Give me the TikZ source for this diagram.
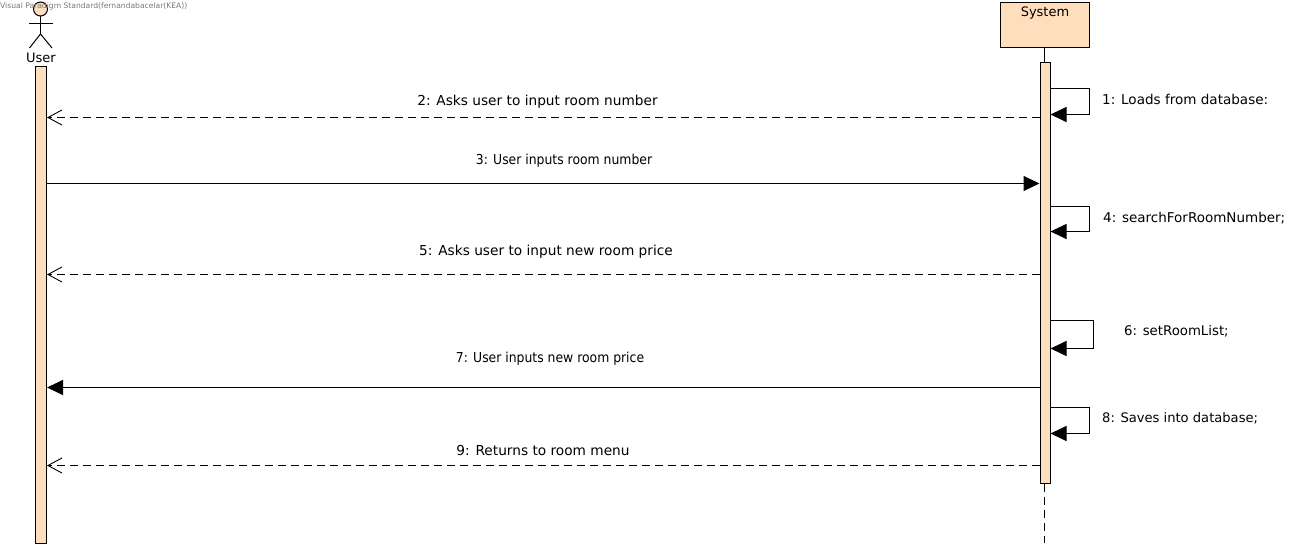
\documentclass[tikz,border=0pt]{standalone}
\usepackage{fontspec}
\setmainfont{DejaVu Sans}
\usetikzlibrary{arrows.meta}
\definecolor{barfill}{RGB}{255,222,190}
\definecolor{markgray}{RGB}{120,120,120}
\tikzset{
  barnode/.style={draw=black,fill=barfill,line width=1pt,minimum width=11pt,inner sep=0pt,anchor=north},
  msgtext/.style={font=\fontsize{13.7}{16}\selectfont,inner sep=0pt},
  narrowtext/.style={msgtext,xscale=0.905,transform shape},
  solidmsg/.style={line width=1pt,-{Triangle[length=16pt,width=15pt]}},
  dashmsg/.style={line width=1pt,dash pattern=on 8pt off 5pt,-{Straight Barb[length=14pt,width=15pt,line width=0.9pt]}},
}
\begin{document}
\begin{tikzpicture}[x=1pt,y=-1pt]
  \useasboundingbox (0,0) rectangle (1304,548);
  % lifelines
  \node[draw=black,fill=barfill,line width=1pt,minimum width=89pt,minimum height=45pt,inner sep=0pt,anchor=north west] (sysbox) at (1000,2.5) {};
  \node[msgtext,font=\fontsize{13}{16}\selectfont] (systitle) at (1045,13.5) {System};
  \node[barnode,minimum height=476pt] (userbar) at (41,66.5) {};
  \node[barnode,minimum width=10pt,minimum height=420.5pt] (sysbar) at (1045,62.5) {};
  \coordinate (sysend) at (1044.5,543);
  \draw[line width=1pt] (sysbox.south -| sysend) -- (sysbar.north -| sysend);
  \draw[line width=1pt,dash pattern=on 8pt off 5pt] (sysbar.south -| sysend) -- (sysend);
  % actor
  \node[draw=black,fill=barfill,circle,line width=1pt,minimum size=14pt,inner sep=0pt] (userhead) at (40.5,9) {};
  \coordinate (userhip) at (40.5,34);
  \draw[line width=1pt] (userhead.south) -- (userhip);
  \draw[line width=1pt] (29,23.5) -- (52.5,23.5);
  \draw[line width=1pt] (29.5,48) -- (userhip) -- (52,48);
  \node[msgtext,font=\fontsize{13}{16}\selectfont] (usertitle) at (41,57.5) {User};
  \node[anchor=west,inner sep=0pt,text=markgray,font=\fontsize{7.6}{9}\selectfont] (watermark) at (0,6.5) {Visual Paradigm Standard(fernandabacelar(KEA))};
  % messages
  \coordinate (m2) at (0,117.5);
  \coordinate (m3) at (0,183.5);
  \coordinate (m5) at (0,274.5);
  \coordinate (m7) at (0,387.5);
  \coordinate (m9) at (0,465.5);
  \draw[dashmsg] (sysbar.west |- m2) -- (userbar.east |- m2);
  \draw[solidmsg] (userbar.east |- m3) -- (sysbar.west |- m3);
  \draw[dashmsg] (sysbar.west |- m5) -- (userbar.east |- m5);
  \draw[solidmsg] (sysbar.west |- m7) -- (userbar.east |- m7);
  \draw[dashmsg] (sysbar.west |- m9) -- (userbar.east |- m9);
  \node[msgtext] (t2) at (537.5,102) {2: Asks user to input room number};
  \node[narrowtext] (t3) at (564,161) {3: User inputs room number};
  \node[msgtext] (t5) at (546,252) {5: Asks user to input new room price};
  \node[narrowtext] (t7) at (550,359) {7: User inputs new room price};
  \node[msgtext] (t9) at (543,451) {9: Returns to room menu};
  % self calls
  \foreach \ytop/\ybot/\xright/\selfname in {88.5/114.5/1089/s1,206.5/231.5/1089/s4,320.5/348.5/1093/s6,407.5/433.5/1089/s8}{
    \coordinate (\selfname a) at (0,\ytop);
    \coordinate (\selfname b) at (0,\ybot);
    \draw[solidmsg] (sysbar.east |- \selfname a) -- (\xright,\ytop) -- (\xright,\ybot) -- (sysbar.east |- \selfname b);
  }
  \node[msgtext,anchor=west,font=\fontsize{13.55}{16}\selectfont] (t1) at (1102,99) {1: Loads from database:};
  \node[msgtext,anchor=west,font=\fontsize{13.5}{16}\selectfont] (t4) at (1103,218) {4: searchForRoomNumber;};
  \node[msgtext,anchor=west,font=\fontsize{13.3}{16}\selectfont] (t6) at (1124,331) {6: setRoomList;};
  \node[msgtext,anchor=west,font=\fontsize{13.1}{16}\selectfont] (t8) at (1102,418) {8: Saves into database;};
\end{tikzpicture}
\end{document}
